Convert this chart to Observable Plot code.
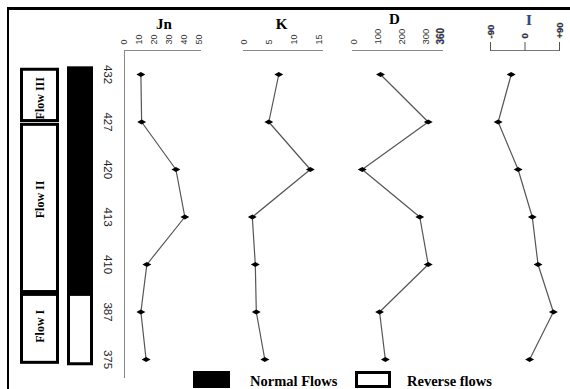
<!DOCTYPE html>
<html><head><meta charset="utf-8">
<script src="https://cdn.jsdelivr.net/npm/d3@7"></script>
<script src="https://cdn.jsdelivr.net/npm/@observablehq/plot@0.6"></script>
<style>
html,body{margin:0;padding:0;background:#fff;}
#chart{position:relative;width:570px;height:389px;overflow:hidden;background:#fff;}
#chart svg{position:absolute;left:0;top:0;}
.ft{position:absolute;left:7px;top:7px;width:563px;height:3px;background:#000;}
.fl{position:absolute;left:7px;top:7px;width:2px;height:382px;background:#000;}
.title{position:absolute;font:bold 15px "Liberation Serif",serif;transform:translateX(-50%);line-height:1;}
.sw{position:absolute;box-sizing:border-box;}
.lt{position:absolute;font:bold 14.5px "Liberation Serif",serif;line-height:1;}
</style></head>
<body><div id="chart">
<div class="ft"></div><div class="fl"></div>
</div>
<script>
// ---- data ----
const depths = ["432","427","420","413","410","387","375"];
const jn  = [11, 11.5, 34.5, 40.5, 15, 11, 14.5];
const kv  = [7.0, 5.0, 13.3, 1.7, 2.3, 2.5, 4.2];
const dec = [111, 309, 35, 274, 309, 107, 131];
const inc = [-36, -70, -18, 19, 34, 74, 12];
const flowNames  = ["Flow III","Flow II","Flow I"];
const flowTop    = [-0.1, 1.06, 4.64];
const flowBottom = [0.98, 4.58, 6.07];
const flowLabelAt = [0.5, 2.63, 5.3];
const regimes      = ["Normal Flows","Reverse flows"];
const regimeTop    = [-0.13, 4.64];
const regimeBottom = [4.6, 6.1];
const jnTicks = [0,10,20,30,40,50];
const kTicks  = [0,5,10,15];
const dTicks  = [0,100,200,300];
const dTicksHi = [360];
const iTicks  = [-90,0,90];
const titles = ["Jn","K","D","I"];

const rows = depths.map((d,i)=>({depth:d,row:i,Jn:jn[i],K:kv[i],D:dec[i],I:inc[i]}));
const W = 570, H = 389;
const Y = {domain:[0,6], range:[74,359], axis:null};
const ST = {background:"transparent", overflow:"visible"};
const NARROW = "'Liberation Sans Narrow','Arial Narrow','Liberation Sans',sans-serif";
const chart = document.getElementById("chart");

function add(p){ chart.appendChild(p); }

// flow labels column
add(Plot.plot({width:W,height:H,marginLeft:21.5,marginRight:W-57.5,marginTop:0,marginBottom:0,style:ST,
  y:Y,
  marks:[
    Plot.rect(d3.range(flowNames.length),{y1:i=>flowTop[i],y2:i=>flowBottom[i],fill:"white",stroke:"black",strokeWidth:3}),
    Plot.text(d3.range(flowNames.length),{y:i=>flowLabelAt[i],text:i=>flowNames[i],rotate:-90,
      fontFamily:"'Liberation Serif',serif",fontWeight:"bold",fontSize:12,fill:"black"})
  ]}));

// regime column
add(Plot.plot({width:W,height:H,marginLeft:68.5,marginRight:W-91.5,marginTop:0,marginBottom:0,style:ST,
  y:Y,
  marks:[
    Plot.rect(d3.range(regimes.length),{y1:i=>regimeTop[i],y2:i=>regimeBottom[i],
      fill:i=>i===0?"black":"white",stroke:"black",strokeWidth:3})
  ]}));

// depth labels
add(Plot.plot({width:W,height:H,marginLeft:100,marginRight:W-115,marginTop:0,marginBottom:0,style:ST,
  y:Y,
  marks:[Plot.text(rows,{y:"row",text:"depth",rotate:90,fontFamily:NARROW,fontSize:11.5,fill:"#222"})]}));

function panel(key, domain, range, l, r, extra){
  return Plot.plot({width:W,height:H,marginLeft:l,marginRight:W-r,marginTop:50,marginBottom:12,style:ST,
    x:{domain,range,axis:null,label:null},
    y:Y,
    marks:[
      ...extra,
      Plot.line(rows,{x:key,y:"row",stroke:"#555",strokeWidth:1.2}),
      Plot.dot(rows,{x:key,y:"row",symbol:"diamond",r:2.7,fill:"black",rotate:90})
    ]});
}
const tickTxt = {anchor:"top",label:null,tickSize:0,tickPadding:6,tickRotate:-90,fontFamily:NARROW,fontSize:9,fill:"#333"};

add(panel("Jn",[0,50],[124,198.5],124,200,[
  Plot.frame({anchor:"top",stroke:"#888"}),
  Plot.frame({anchor:"left",stroke:"#888"}),
  Plot.axisX(jnTicks,tickTxt)
]));
add(panel("K",[0,15],[243.3,318.3],243,322,[
  Plot.frame({anchor:"top",stroke:"#888"}),
  Plot.axisX(kTicks,tickTxt)
]));
add(panel("D",[0,360],[353.3,440],352,442,[
  Plot.frame({anchor:"top",stroke:"#888"}),
  Plot.axisX(dTicks,{...tickTxt,fontSize:9.5}),
  Plot.axisX(dTicksHi,{...tickTxt,fontFamily:"'Liberation Sans',sans-serif",fontWeight:"bold",fontSize:10,fill:"#1a2f8f",textStroke:"#e0c000",textStrokeWidth:0.6})
]));
add(panel("I",[-90,90],[490,559],490,559,[
  Plot.frame({anchor:"top",stroke:"#777"}),
  Plot.axisX(iTicks,{anchor:"top",label:null,tickSize:9,tickPadding:3,tickRotate:-90,stroke:"#555",
    tickFormat:d=>d>0?"+"+d:String(d),
    fontFamily:"'Liberation Sans',sans-serif",fontWeight:"bold",fontSize:9.5,fill:"#1a2f8f",textStroke:"#e0c000",textStrokeWidth:0.6})
]));

// titles
const tpos = [[164,17],[281.5,17],[394.5,12],[529,13]];
titles.forEach((t,i)=>{
  const d=document.createElement("div");d.className="title";d.textContent=t;
  d.style.left=tpos[i][0]+"px";d.style.top=tpos[i][1]+"px";
  if(t==="I"){d.style.color="#2a4aa8";d.style.textShadow="0 0 1px #e0c000";}
  chart.appendChild(d);
});

// legend
const sw1=document.createElement("div");sw1.className="sw";
Object.assign(sw1.style,{left:"193px",top:"371px",width:"37px",height:"17px",background:"#000"});
chart.appendChild(sw1);
const sw2=document.createElement("div");sw2.className="sw";
Object.assign(sw2.style,{left:"355px",top:"371px",width:"36px",height:"17px",background:"#fff",border:"3px solid #000"});
chart.appendChild(sw2);
[[regimes[0],250],[regimes[1],407]].forEach(([t,x])=>{
  const d=document.createElement("div");d.className="lt";d.textContent=t;
  d.style.left=x+"px";d.style.top="374px";chart.appendChild(d);
});
</script>
</body></html>
